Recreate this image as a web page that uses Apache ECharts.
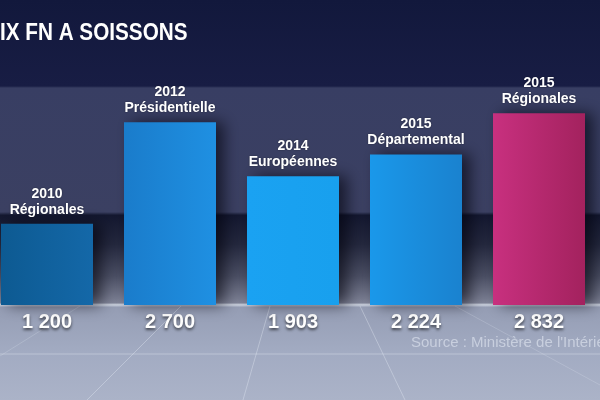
<!DOCTYPE html>
<html>
<head>
<meta charset="utf-8">
<script src="https://cdn.jsdelivr.net/npm/echarts@6/dist/echarts.min.js"></script>
<style>html,body{margin:0;padding:0;background:#141a40;}#c{width:600px;height:400px;}</style>
</head>
<body>
<div id="c"></div>
<script>
const years = ['2010', '2012', '2014', '2015', '2015'];
const types = ['Régionales', 'Présidentielle', 'Européennes', 'Départemental', 'Régionales'];
const values = [1200, 2700, 1903, 2224, 2832];
const titleText = 'IX FN A SOISSONS';
const sourceText = "Source : Ministère de l'Intérieur";

const barColors = [
  ['#0d5a92', '#1468a8'],
  ['#1a7ccb', '#1f90e2'],
  ['#1aa2f2', '#18a0ee'],
  ['#1a98ea', '#1a82cf'],
  ['#c8307f', '#a3225e']
];

function fmt(v) {
  const s = String(v);
  return s.length > 3 ? s.slice(0, s.length - 3) + ' ' + s.slice(-3) : s;
}

const chart = echarts.init(document.getElementById('c'));
const font = '"Liberation Sans", Arial, sans-serif';
const floorLine = 'rgba(235,240,250,0.35)';

chart.setOption({
  animation: false,
  backgroundColor: {
    type: 'linear', x: 0, y: 0, x2: 0, y2: 1,
    colorStops: [
      { offset: 0, color: '#12183c' },
      { offset: 0.215, color: '#181d44' },
      { offset: 0.22, color: '#383e63' },
      { offset: 0.53, color: '#3b4062' },
      { offset: 0.538, color: '#13172f' },
      { offset: 0.61, color: '#23273d' },
      { offset: 0.69, color: '#4a4e63' },
      { offset: 0.757, color: '#7e8296' },
      { offset: 0.762, color: '#ccd3df' },
      { offset: 0.768, color: '#959db4' },
      { offset: 0.88, color: '#a2abc2' },
      { offset: 1, color: '#abb3c8' }
    ]
  },
  graphic: [
    { type: 'line', silent: true, z: 0, shape: { x1: 0, y1: 354, x2: 600, y2: 354 }, style: { stroke: floorLine, lineWidth: 1 } },
    { type: 'line', silent: true, z: 0, shape: { x1: 87, y1: 400, x2: 181, y2: 306 }, style: { stroke: floorLine, lineWidth: 1 } },
    { type: 'line', silent: true, z: 0, shape: { x1: 243, y1: 400, x2: 270, y2: 306 }, style: { stroke: floorLine, lineWidth: 1 } },
    { type: 'line', silent: true, z: 0, shape: { x1: 360, y1: 306, x2: 405, y2: 400 }, style: { stroke: floorLine, lineWidth: 1 } },
    { type: 'line', silent: true, z: 0, shape: { x1: 0, y1: 356, x2: 80, y2: 306 }, style: { stroke: 'rgba(235,240,250,0.2)', lineWidth: 1 } },
    { type: 'line', silent: true, z: 0, shape: { x1: 455, y1: 306, x2: 600, y2: 385 }, style: { stroke: 'rgba(235,240,250,0.2)', lineWidth: 1 } },
    {
      type: 'text', left: 0, top: 22, scaleX: 0.9, z: 10,
      style: {
        text: titleText, fill: '#ffffff', font: 'bold 23px ' + font,
        shadowColor: 'rgba(0,0,0,0.5)', shadowBlur: 3
      }
    },
    {
      type: 'text', left: 411, top: 335, z: 10,
      style: { text: sourceText, fill: 'rgba(210,216,230,0.8)', font: '15px ' + font }
    }
  ],
  grid: { left: -14.5, width: 615, top: 68, bottom: 95, outerBoundsMode: 'none', containLabel: false },
  xAxis: {
    type: 'category',
    data: values.map(fmt),
    axisLine: { show: false },
    axisTick: { show: false },
    axisLabel: {
      color: '#ffffff', fontSize: 20, fontWeight: 'bold', fontFamily: font, margin: 7,
      textShadowColor: 'rgba(0,0,0,0.6)', textShadowBlur: 3, textShadowOffsetY: 2
    }
  },
  yAxis: {
    type: 'value', min: 0, max: 3500, show: false,
    splitLine: { show: false }
  },
  series: [{
    type: 'bar',
    barWidth: 92,
    data: values.map((v, i) => ({
      value: v,
      itemStyle: {
        color: {
          type: 'linear', x: 0, y: 0, x2: 1, y2: 0,
          colorStops: [{ offset: 0, color: barColors[i][0] }, { offset: 1, color: barColors[i][1] }]
        },
        shadowColor: 'rgba(0,0,10,0.6)', shadowBlur: 14, shadowOffsetX: 8
      }
    })),
    label: {
      show: true, position: 'top', distance: 6,
      formatter: p => years[p.dataIndex] + '\n' + types[p.dataIndex],
      color: '#ffffff', fontSize: 14, fontWeight: 'bold', fontFamily: font, lineHeight: 16,
      textShadowColor: 'rgba(0,0,0,0.4)', textShadowBlur: 2
    }
  }]
});
</script>
</body>
</html>
